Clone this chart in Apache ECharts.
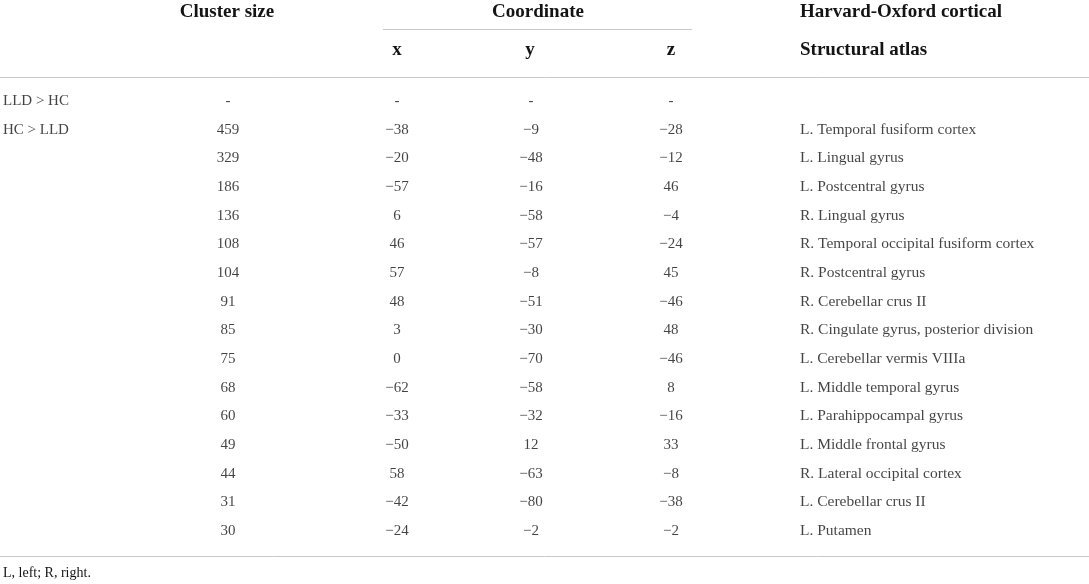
<!DOCTYPE html>
<html>
<head>
<meta charset="utf-8">
<script src="https://cdn.jsdelivr.net/npm/echarts@6/dist/echarts.min.js"></script>
<style>
  html, body { margin: 0; padding: 0; background: #fff; }
  #chart { width: 1089px; height: 584px; }
</style>
</head>
<body>
<div id="chart"></div>
<script>
// table values, one entry per row
const groups = ["LLD > HC", "HC > LLD", "", "", "", "", "", "", "", "", "", "", "", "", "", ""];
const clusterSize = ["-", 459, 329, 186, 136, 108, 104, 91, 85, 75, 68, 60, 49, 44, 31, 30];
const coordX = ["-", -38, -20, -57, 6, 46, 57, 48, 3, 0, -62, -33, -50, 58, -42, -24];
const coordY = ["-", -9, -48, -16, -58, -57, -8, -51, -30, -70, -58, -32, 12, -63, -80, -2];
const coordZ = ["-", -28, -12, 46, -4, -24, 45, -46, 48, -46, 8, -16, 33, -8, -38, -2];
const atlas = [
  "",
  "L. Temporal fusiform cortex",
  "L. Lingual gyrus",
  "L. Postcentral gyrus",
  "R. Lingual gyrus",
  "R. Temporal occipital fusiform cortex",
  "R. Postcentral gyrus",
  "R. Cerebellar crus II",
  "R. Cingulate gyrus, posterior division",
  "L. Cerebellar vermis VIIIa",
  "L. Middle temporal gyrus",
  "L. Parahippocampal gyrus",
  "L. Middle frontal gyrus",
  "R. Lateral occipital cortex",
  "L. Cerebellar crus II",
  "L. Putamen"
];
const footnote = "L, left; R, right.";

// layout: column anchors on the x scale (0..1089 across the page)
const colPos = { group: 3, cluster: 228, x: 397, y: 531, z: 671, atlas: 800 };
const font = "'Liberation Serif', 'DejaVu Serif', serif";
const ink = "#141414";
const rule = "#c9c9c9";

const fmt = v => (typeof v === "number" && v < 0 ? "\u2212" + Math.abs(v) : String(v));
const rows = groups.map((_, i) => String(i));

const column = (values, xPos, align, size) => ({
  type: "scatter",
  symbolSize: 0,
  silent: true,
  data: values.map((v, i) => [xPos, String(i), v]),
  label: {
    show: true,
    position: align === "left" ? "right" : "inside",
    distance: 0,
    formatter: p => fmt(p.data[2]),
    fontFamily: font,
    fontSize: size || 15,
    color: ink
  }
});

const headText = (text, x, y, align) => ({
  type: "text",
  x, y,
  style: {
    text,
    fill: ink,
    font: "bold 19px " + font,
    textAlign: align,
    textVerticalAlign: "middle"
  }
});

const hLine = (x1, x2, y) => ({
  type: "line",
  shape: { x1, y1: y, x2, y2: y },
  style: { stroke: rule, lineWidth: 1 }
});

const chart = echarts.init(document.getElementById("chart"));
chart.setOption({
  animation: false,
  grid: { left: 0, right: 0, top: 86.7, bottom: 38.7 },
  xAxis: { type: "value", min: 0, max: 1089, show: false },
  yAxis: { type: "category", data: rows, inverse: true, show: false },
  series: [
    column(groups, colPos.group, "left", 15),
    column(clusterSize, colPos.cluster, "center"),
    column(coordX, colPos.x, "center"),
    column(coordY, colPos.y, "center"),
    column(coordZ, colPos.z, "center"),
    column(atlas, colPos.atlas, "left", 15.5)
  ],
  graphic: [
    headText("Cluster size", 227, 12, "center"),
    headText("Coordinate", 538, 12, "center"),
    headText("Harvard-Oxford cortical", 800, 12, "left"),
    headText("x", 397, 50, "center"),
    headText("y", 530, 50, "center"),
    headText("z", 671, 50, "center"),
    headText("Structural atlas", 800, 50, "left"),
    hLine(383, 692, 29.5),
    hLine(0, 1089, 77.5),
    hLine(0, 1089, 556.5),
    {
      type: "text",
      x: 3, y: 573,
      style: { text: footnote, fill: ink, font: "14px " + font, textVerticalAlign: "middle" }
    }
  ]
});
</script>
</body>
</html>
